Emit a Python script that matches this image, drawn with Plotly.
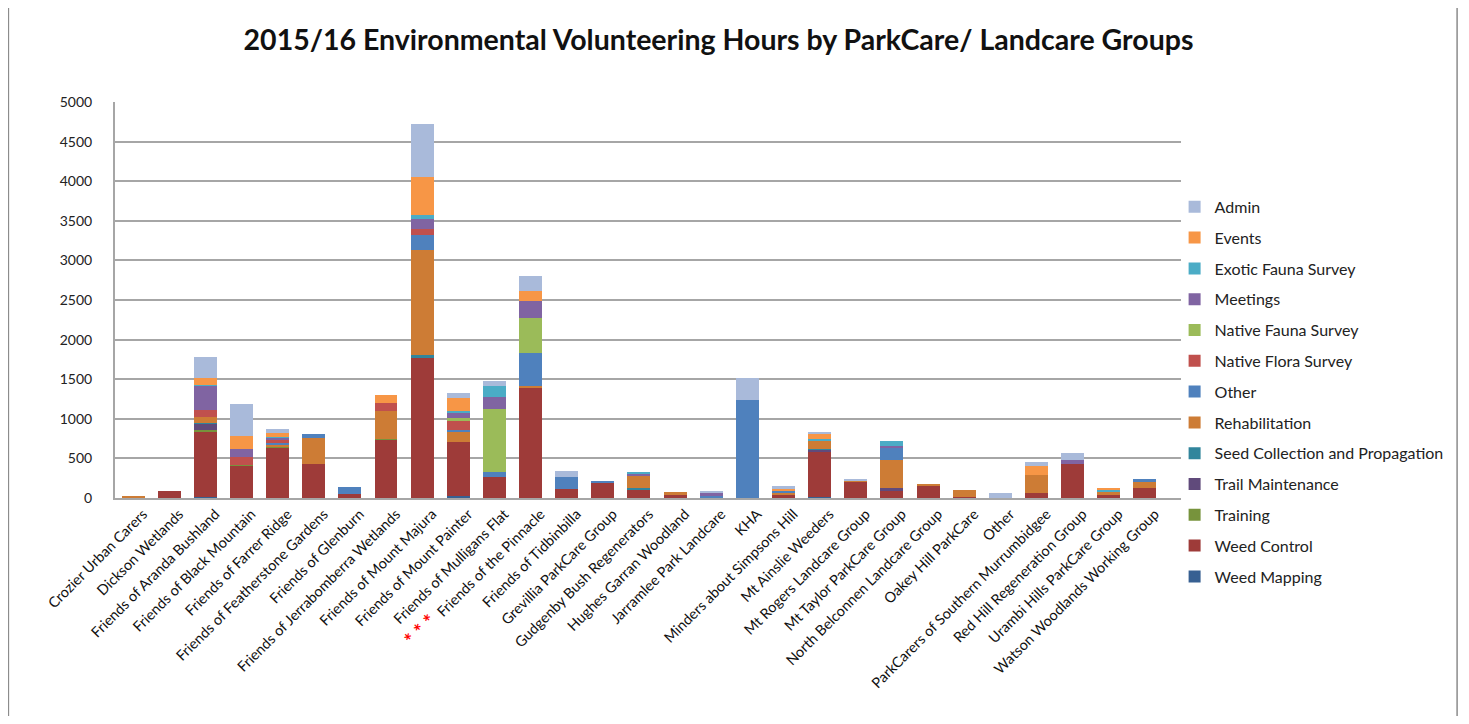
import plotly.graph_objects as go

categories = [
    "Crozier Urban Carers", "Dickson Wetlands", "Friends of Aranda Bushland",
    "Friends of Black Mountain", "Friends of Farrer Ridge", "Friends of Featherstone Gardens",
    "Friends of Glenburn", "Friends of Jerrabomberra Wetlands", "Friends of Mount Majura",
    "Friends of Mount Painter", "Friends of Mulligans Flat", "Friends of the Pinnacle",
    "Friends of Tidbinbilla", "Grevillia ParkCare Group", "Gudgenby Bush Regenerators",
    "Hughes Garran Woodland", "Jarramlee Park Landcare", "KHA", "Minders about Simpsons Hill",
    "Mt Ainslie Weeders", "Mt Rogers Landcare Group", "Mt Taylor ParkCare Group",
    "North Belconnen Landcare Group", "Oakey Hill ParkCare", "Other",
    "ParkCarers of Southern Murrumbidgee", "Red Hill Regeneration Group",
    "Urambi Hills ParkCare Group", "Watson Woodlands Working Group",
]

tick_labels = [
    ("<span style='color:#FF0000;font-size:20px'><b>* * *</b></span>  " + c) if c == "Friends of the Pinnacle" else c
    for c in categories
]

weed_mapping = [0, 0, 15, 0, 0, 0, 0, 0, 0, 25, 0, 0, 0, 0, 0, 0, 0, 0, 0, 15, 0, 0, 0, 0, 0, 0, 0, 0, 0]
weed_control = [0, 90, 825, 408, 640, 425, 50, 737, 1767, 679, 267, 1392, 108, 195, 112, 37, 0, 0, 37, 562, 204, 100, 150, 10, 0, 67, 433, 46, 121]
training = [0, 0, 15, 15, 10, 0, 0, 10, 0, 0, 0, 0, 0, 0, 0, 0, 0, 0, 0, 0, 0, 0, 0, 0, 0, 0, 0, 0, 0]
trail_maintenance = [0, 0, 83, 0, 0, 0, 0, 0, 0, 0, 0, 0, 0, 0, 0, 0, 0, 0, 0, 29, 0, 21, 0, 0, 0, 0, 0, 0, 0]
seed_collection = [0, 0, 15, 0, 0, 0, 0, 0, 42, 0, 0, 0, 0, 0, 20, 0, 0, 0, 0, 15, 0, 0, 0, 0, 0, 0, 0, 0, 0]
rehabilitation = [20, 0, 75, 0, 25, 330, 0, 346, 1321, 125, 0, 20, 0, 0, 142, 42, 0, 0, 29, 108, 20, 362, 33, 85, 0, 221, 0, 25, 83]
other = [0, 0, 0, 0, 25, 55, 90, 0, 187, 33, 62, 417, 158, 10, 0, 0, 25, 1233, 25, 0, 0, 158, 0, 0, 0, 0, 0, 0, 35]
native_flora = [0, 0, 83, 92, 30, 0, 0, 104, 83, 112, 0, 0, 0, 0, 0, 0, 0, 0, 0, 0, 0, 0, 0, 0, 0, 0, 0, 0, 0]
native_fauna = [0, 0, 0, 0, 0, 0, 0, 0, 0, 33, 792, 446, 0, 0, 0, 0, 0, 0, 0, 0, 0, 0, 0, 0, 0, 0, 0, 0, 0]
meetings = [0, 0, 312, 104, 30, 0, 0, 0, 125, 62, 154, 208, 0, 0, 30, 0, 42, 0, 0, 0, 0, 20, 0, 0, 0, 0, 50, 0, 0]
exotic_fauna = [0, 0, 10, 0, 15, 0, 0, 0, 54, 29, 137, 0, 0, 0, 30, 0, 0, 0, 0, 14, 0, 54, 0, 0, 0, 0, 0, 37, 0]
events = [0, 0, 83, 167, 50, 0, 0, 108, 471, 167, 0, 137, 0, 0, 0, 0, 0, 0, 29, 62, 0, 0, 0, 0, 0, 112, 0, 17, 0]
admin = [0, 0, 270, 404, 50, 0, 0, 0, 667, 62, 71, 179, 71, 0, 0, 0, 10, 283, 29, 33, 10, 0, 0, 0, 67, 54, 87, 0, 0]

series = [
    ("Weed Mapping", weed_mapping, "#376092"),
    ("Weed Control", weed_control, "#9E3B39"),
    ("Training", training, "#77933C"),
    ("Trail Maintenance", trail_maintenance, "#604A7B"),
    ("Seed Collection and Propagation", seed_collection, "#31859C"),
    ("Rehabilitation", rehabilitation, "#CD7C35"),
    ("Other", other, "#4F81BD"),
    ("Native Flora Survey", native_flora, "#C0504D"),
    ("Native Fauna Survey", native_fauna, "#9BBB59"),
    ("Meetings", meetings, "#8064A2"),
    ("Exotic Fauna Survey", exotic_fauna, "#4BACC6"),
    ("Events", events, "#F79646"),
    ("Admin", admin, "#A9BADA"),
]

fig = go.Figure()
n = len(series)
for i, (name, vals, color) in enumerate(series):
    fig.add_trace(go.Bar(
        x=categories, y=vals, name=name, legendgroup=name,
        legendrank=(n - i) * 10,
        marker=dict(color=color, line=dict(width=0)),
    ))

fig.update_layout(
    width=1453, height=708,
    barmode="stack", bargap=0.365,
    paper_bgcolor="white", plot_bgcolor="white",
    font=dict(family="Lato, Open Sans, sans-serif", color="#222222"),
    margin=dict(l=107, r=278, t=94, b=218),
    title=dict(
        text="<b>2015/16 Environmental Volunteering Hours by ParkCare/ Landcare Groups</b>",
        x=0.489, xanchor="center", y=0.9545, yanchor="middle",
        font=dict(size=28.5, color="#111111", family="Lato, Open Sans, sans-serif"),
    ),
    legend=dict(
        x=0.994, xanchor="left", y=0.778, yanchor="top",
        traceorder="grouped", tracegroupgap=7,
        font=dict(size=16, color="#222222"),
        itemwidth=30, bgcolor="rgba(0,0,0,0)",
        maxheight=600,
    ),
    xaxis=dict(
        tickmode="array", tickvals=categories, ticktext=tick_labels,
        tickangle=-45, tickfont=dict(size=14.5, color="#111111"),
        ticklabelshift=10,
        range=[-0.5, 29.0], showgrid=False, showline=True,
        linecolor="#A6A6A6", linewidth=2, ticks="",
    ),
    yaxis=dict(
        range=[0, 5000], dtick=500, showgrid=True, gridcolor="#A6A6A6", gridwidth=2,
        showline=True, linecolor="#A6A6A6", linewidth=2,
        tickfont=dict(size=14, color="#222222"), ticks="", ticklabelstandoff=18,
        zeroline=False,
    ),
    shapes=[dict(
        type="rect", xref="paper", yref="paper",
        x0=-0.1, x1=1.259, y0=-0.553, y1=1.245,
        line=dict(color="#8C8C8C", width=1.5), fillcolor="rgba(0,0,0,0)", layer="below",
    )],
)

fig.write_html("out.html")
